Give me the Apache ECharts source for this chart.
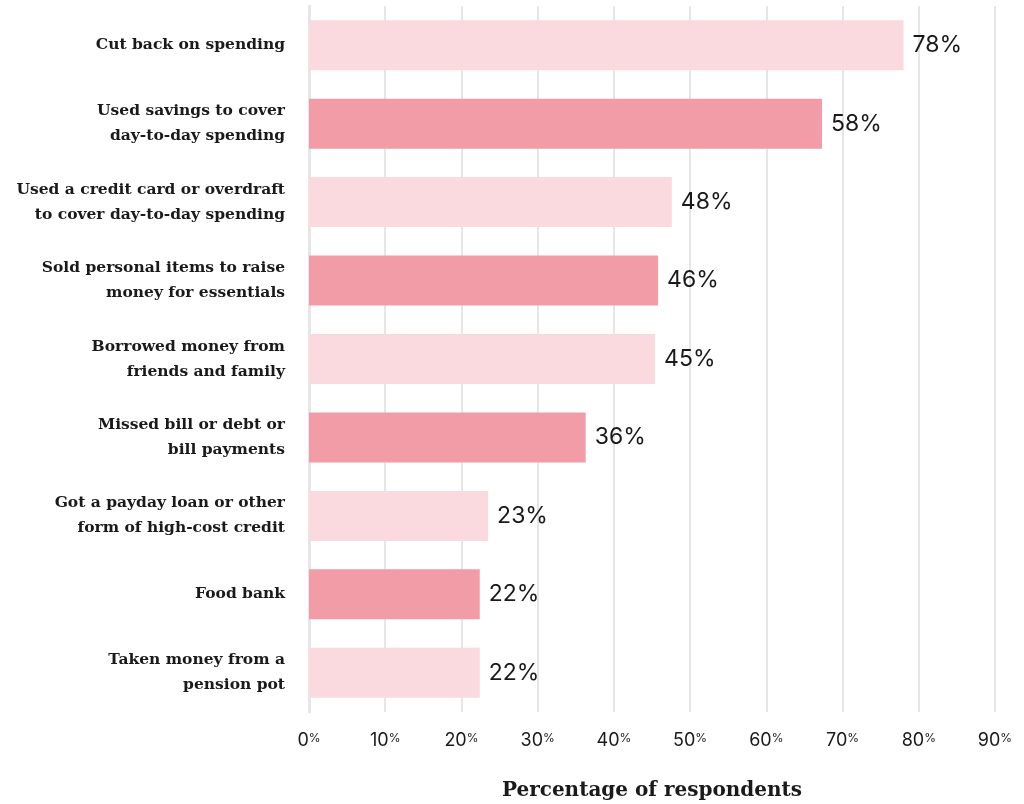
<!DOCTYPE html>
<html lang="en">
<head>
    <meta charset="UTF-8">
    <title>Actions taken</title>
    <script src="https://cdn.jsdelivr.net/npm/echarts@6/dist/echarts.min.js"></script>
    <style>
        html, body { margin: 0; padding: 0; background: #fff; overflow: hidden; }
        #chart { width: 1024px; height: 804px; }
    </style>
</head>
<body>
<div id="chart"></div>
<script>
    // categories, top to bottom
    const categories = [
        'Cut back on spending',
        'Used savings to cover\nday-to-day spending',
        'Used a credit card or overdraft\nto cover day-to-day spending',
        'Sold personal items to raise\nmoney for essentials',
        'Borrowed money from\nfriends and family',
        'Missed bill or debt or\nbill payments',
        'Got a payday loan or other\nform of high-cost credit',
        'Food bank',
        'Taken money from a\npension pot'
    ];
    // bar lengths as drawn
    const barValues = [78, 67.3, 47.6, 45.8, 45.4, 36.3, 23.5, 22.4, 22.4];
    // printed labels
    const valueLabels = ['78%', '58%', '48%', '46%', '45%', '36%', '23%', '22%', '22%'];

    const lightPink = '#fad9df';
    const darkPink = '#f29ca8';

    const chart = echarts.init(document.getElementById('chart'));

    chart.setOption({
        animation: false,
        grid: { left: 309, right: 29, top: 6, bottom: 92, containLabel: false, outerBoundsMode: 'none' },
        xAxis: {
            type: 'value',
            min: 0,
            max: 90,
            interval: 10,
            name: 'Percentage of respondents',
            nameLocation: 'middle',
            nameGap: 69,
            nameTextStyle: { fontFamily: 'DejaVu Serif', fontWeight: 'bold', fontSize: 20, color: '#1a1a1a' },
            axisLine: { show: false },
            axisTick: { show: false },
            splitLine: { lineStyle: { color: '#e6e6e6', width: 2 } },
            axisLabel: {
                margin: 20,
                fontFamily: 'Inter',
                fontSize: 18,
                color: '#1a1a1a',
                formatter: v => '{n|' + v + '}{p|%}',
                rich: {
                    n: { fontFamily: 'Inter', fontSize: 18, color: '#1a1a1a' },
                    p: { fontFamily: 'Inter', fontSize: 12, color: '#1a1a1a', verticalAlign: 'top', padding: [0, 0, 6, 0] }
                }
            }
        },
        yAxis: {
            type: 'category',
            inverse: true,
            data: categories,
            axisLine: { show: true, lineStyle: { color: '#e6e6e6', width: 3 } },
            axisTick: { show: false },
            axisLabel: {
                margin: 24,
                align: 'right',
                fontFamily: 'DejaVu Serif',
                fontWeight: 'bold',
                fontSize: 15.5,
                lineHeight: 25,
                color: '#1a1a1a'
            }
        },
        series: [{
            type: 'bar',
            barWidth: 50,
            data: barValues.map((v, i) => ({
                value: v,
                itemStyle: { color: i % 2 === 0 ? lightPink : darkPink }
            })),
            label: {
                show: true,
                position: 'right',
                distance: 9,
                formatter: p => valueLabels[p.dataIndex],
                fontFamily: 'Inter',
                fontSize: 23,
                color: '#1a1a1a'
            }
        }]
    });
</script>
</body>
</html>
